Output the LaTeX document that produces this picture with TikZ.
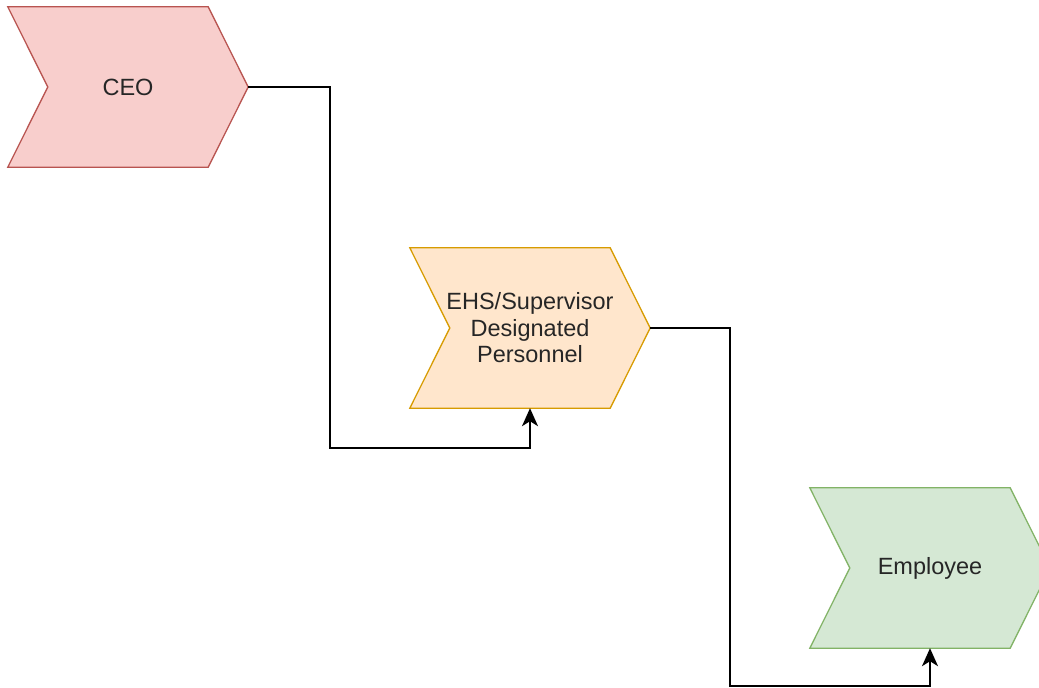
\documentclass[tikz,border=0pt]{standalone}
\usepackage{fontspec}
\setmainfont{Liberation Sans}
\usetikzlibrary{arrows.meta,calc,backgrounds}
\definecolor{ceofill}{HTML}{F8CECC}\definecolor{ceoline}{HTML}{B85450}
\definecolor{ehsfill}{HTML}{FFE6CC}\definecolor{ehsline}{HTML}{D79B00}
\definecolor{empfill}{HTML}{D5E8D4}\definecolor{empline}{HTML}{82B366}
\tikzset{
  box/.style={minimum width=240pt,minimum height=160pt,inner sep=0pt,align=center,
    font=\fontsize{23.5}{26.5}\selectfont,text=black!85},
  chevline/.style={line width=1.3pt,line join=miter},
  conn/.style={line width=1.8pt,-{Stealth[length=18pt,width=16pt,inset=5pt]}}
}
\newcommand\chevronpath[3]{%
  \fill[#2] (#1.north west) -- ($(#1.north east)+(-40,0)$) -- (#1.east) -- ($(#1.south east)+(-40,0)$) -- (#1.south west) -- ($(#1.west)+(40,0)$) -- cycle;
  \draw[chevline,#3] (#1.north west) -- ($(#1.north east)+(-40,0)$) -- (#1.east) -- ($(#1.south east)+(-40,0)$) -- (#1.south west) -- ($(#1.west)+(40,0)$) -- cycle;}
\begin{document}
\begin{tikzpicture}[x=1pt,y=-1pt]
\useasboundingbox (0,0) rectangle (1039,688);
\clip (0,0) rectangle (1039,688);
\node[box] (ceo) at (128,87) {CEO};
\node[box] (ehs) at (530,328) {EHS/Supervisor\\Designated\\Personnel};
\node[box] (emp) at (930,568) {Employee};
\begin{scope}[on background layer]
\chevronpath{ceo}{ceofill}{ceoline}
\chevronpath{ehs}{ehsfill}{ehsline}
\chevronpath{emp}{empfill}{empline}
\end{scope}
\draw[conn] (ceo.east) -- ++(82,0) |- ($(ehs.south)+(0,40)$) -- (ehs.south);
\draw[conn] (ehs.east) -- ++(80,0) |- ($(emp.south)+(0,38)$) -- (emp.south);
\end{tikzpicture}
\end{document}
